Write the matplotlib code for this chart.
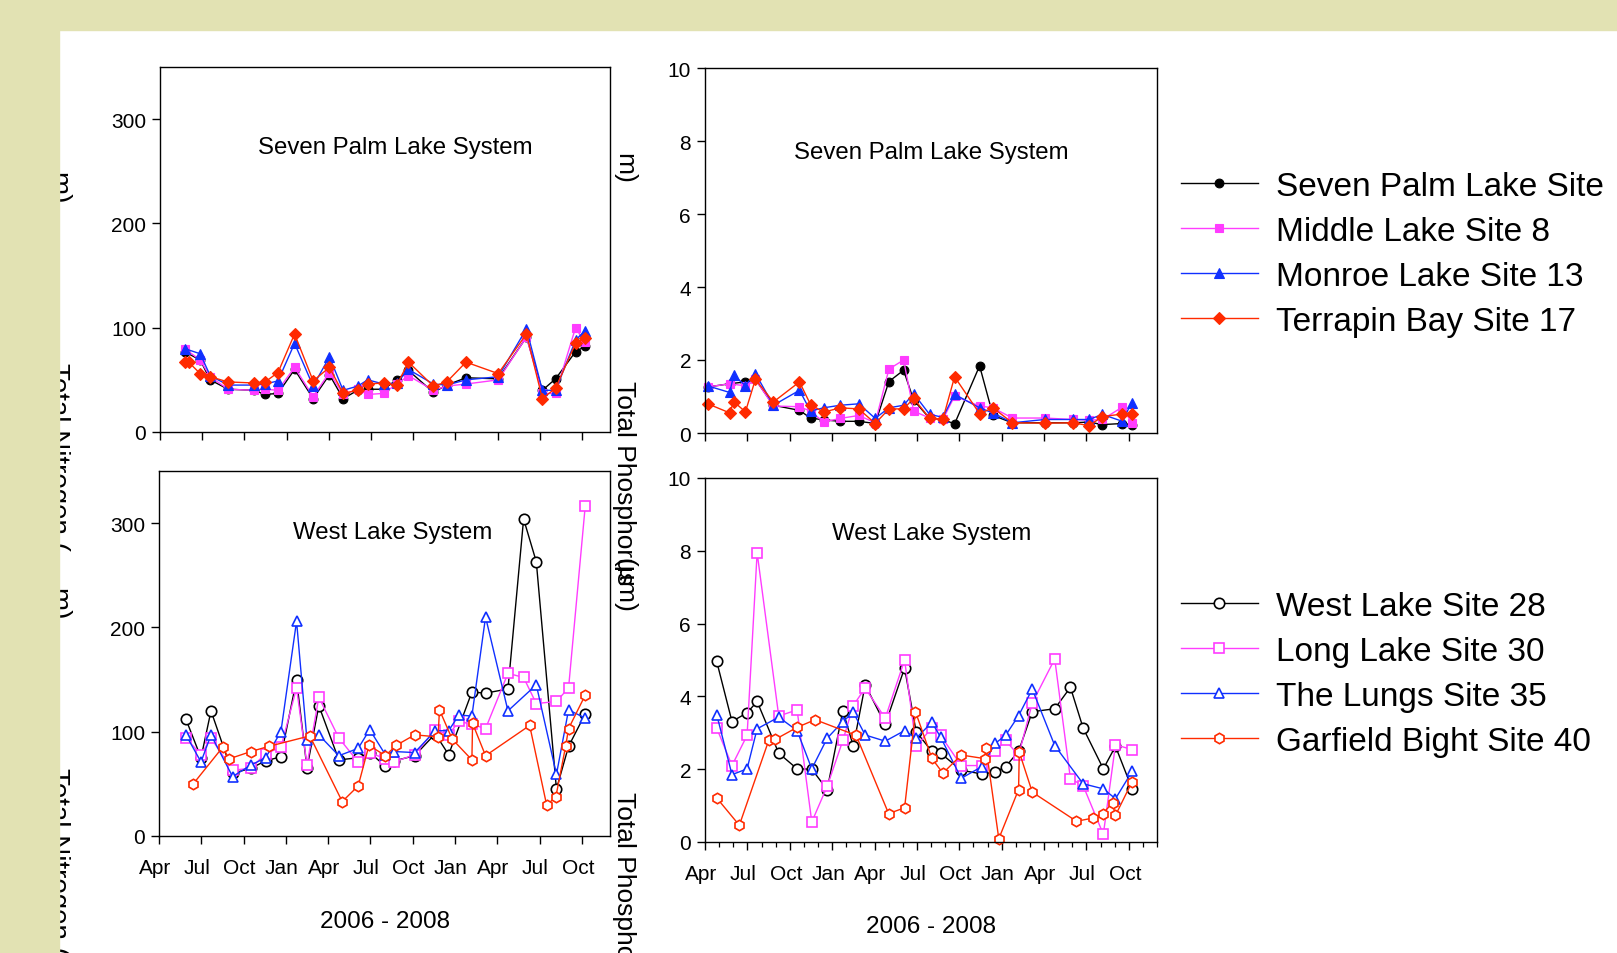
import matplotlib
matplotlib.use("Agg")
import matplotlib.pyplot as plt
import matplotlib.transforms as mtransforms
from matplotlib import font_manager
from matplotlib.patches import Rectangle

# ----------------------------
# Data  (x = months counted from 1 Apr 2006)
# ----------------------------
quarter_ticks = [0, 3, 6, 9, 12, 15, 18, 21, 24, 27, 30]
quarter_labels = ["Apr", "Jul", "Oct", "Jan", "Apr", "Jul", "Oct", "Jan", "Apr", "Jul", "Oct"]

top_labels = ["Seven Palm Lake Site", "Middle Lake Site 8", "Monroe Lake Site 13", "Terrapin Bay Site 17"]
bottom_labels = ["West Lake Site 28", "Long Lake Site 30", "The Lungs Site 35", "Garfield Bight Site 40"]

# Seven Palm Lake System
sp_months = [0.2, 1.75, 2.03, 2.86, 3.57, 4.84, 6.69, 7.47, 8.39, 9.57, 10.89, 12.05, 13.02, 14.06,
             14.77, 15.9, 16.84, 17.67, 19.44, 20.39, 21.76, 24.05, 26.06, 27.19, 28.13, 29.55, 30.2]

sp_tn_seven_palm = [None, 77, None, 69, 50, 41, 40, 36, 37, 60, 32, 55, 32, 40, 41, 41, 50, 59, 38, 45, 52, 51, 91, 40, 51, 77, 82]
sp_tn_middle = [None, 80, None, 69, 53, 41, 40, 41, 40, 62, 34, 57, 36, 41, 36, 37, 46, 54, 40, 44, 46, 50, 91, 37, 37, 100, 86]
sp_tn_monroe = [None, 80, None, 75, 54, 45, 45, 46, 49, 85, 44, 72, 40, 44, 50, 46, 47, 60, 46, 45, 50, 53, 99, 40, 40, 88, 97]
sp_tn_terrapin = [None, 67, 67, 56, 53, 48, 47, 48, 57, 94, 49, 62, 37, 40, 46, 47, 45, 67, 44, 48, 67, 56, 94, 32, 42, 85, 90]

sp_tp_seven_palm = [1.26, 1.35, None, 1.40, 1.47, 0.76, 0.62, 0.41, 0.36, 0.32, 0.32, 0.26, 1.41, 1.72,
                    0.90, 0.40, 0.37, 0.25, 1.84, 0.48, 0.28, 0.28, 0.28, 0.30, 0.23, 0.26, 0.23]
sp_tp_middle = [1.26, 1.35, None, 1.29, 1.47, 0.74, 0.72, 0.60, 0.30, 0.40, 0.48, 0.28, 1.75, 2.00,
                0.60, 0.41, 0.37, 1.01, 0.74, 0.69, 0.41, 0.41, 0.37, 0.35, 0.37, 0.71, 0.28]
sp_tp_monroe = [1.29, 1.11, 1.58, 1.30, 1.63, 0.76, 1.17, 0.60, 0.69, 0.76, 0.80, 0.40, 0.69, 0.76,
                1.08, 0.51, 0.43, 1.06, 0.69, 0.55, 0.28, 0.37, 0.37, 0.37, 0.51, 0.32, 0.83]
sp_tp_terrapin = [0.80, 0.55, 0.86, 0.58, 1.47, 0.85, 1.40, 0.78, 0.57, 0.69, 0.66, 0.26, 0.66, 0.66,
                  0.95, 0.40, 0.38, 1.54, 0.53, 0.69, 0.28, 0.27, 0.28, 0.20, 0.45, 0.52, 0.52]

# West Lake System
wl_months = [0.83, 1.91, 2.98, 3.69, 5.22, 6.52, 7.56, 8.65, 9.76, 10.5, 11.34, 12.76, 14.13, 14.95,
             16.06, 16.68, 18.14, 19.6, 20.55, 21.28, 22.2, 23.17, 24.76, 25.87, 26.77, 28.2, 29.06, 30.24]
wl_red_months = [0.83, 2.43, 4.51, 4.98, 6.52, 7.8, 10.7, 13.0, 14.13, 14.9, 16.06, 16.84, 18.14,
                 19.8, 19.9, 20.8, 22.2, 22.25, 23.17, 26.3, 27.5, 28.15, 28.85, 29.06, 30.24]

wl_tn_west = [None, 112, 75, 120, 60, 65, 72, 76, 150, 65, 125, 73, 75, 80, 67, 72, 77, 98, 78, None,
              138, 137, 141, 304, 263, 45, 86, 117]
wl_tn_long = [None, 94, 78, 94, 63, 65, 79, 85, 142, 68, 133, 94, 71, 80, 74, 71, 78, 102, 97, 110,
              107, 103, 156, 152, 127, 129, 142, 316]
wl_tn_lungs = [None, 97, 71, 97, 57, 68, 75, 100, 206, 92, 97, 77, 84, 102, 78, 81, 80, 101, 101, 116,
               115, 210, 120, None, 145, 59, 121, 113]
wl_tn_garfield = [None, 50, 85, 74, 81, 86, 96, 33, 48, 87, 77, 87, 97, 95, 121, 93, 73, 108, 77, 106,
                  30, 37, 86, 103, 135]

wl_tp_west = [4.96, 3.31, 3.55, 3.86, 2.44, 2.01, 2.00, 1.44, 3.61, 2.63, 4.32, 3.23, 4.78, 3.03,
              2.49, 2.44, 1.97, 1.87, 1.92, 2.07, 2.49, 3.58, 3.66, 4.25, 3.13, 2.01, 2.63, 1.46]
wl_tp_long = [3.13, 2.10, 2.93, 7.95, 3.46, 3.63, 0.55, 1.53, 2.79, 3.75, 4.23, 3.40, 5.00, 2.63,
              3.14, 2.93, 2.10, 2.10, 2.50, 2.79, 2.38, 3.82, 5.03, 1.74, 1.55, 0.21, 2.67, 2.54]
wl_tp_lungs = [3.50, 1.85, 2.01, 3.11, 3.43, 3.06, 2.01, 2.85, 3.31, 3.56, 2.94, 2.77, 3.06, 2.85,
               3.29, 2.88, 1.75, 2.07, 2.71, 2.93, 3.47, 4.20, 2.65, None, 1.60, 1.46, 1.19, 1.94]
wl_tp_garfield = [1.21, 0.46, 2.79, 2.82, 3.15, 3.36, 2.93, 0.78, 0.94, 3.58, 2.30, 1.89, 2.39,
                  2.29, 2.58, 0.09, 1.44, 2.47, 1.37, 0.57, 0.66, 0.78, 1.07, 0.73, 1.66]

# ----------------------------
# Styling
# ----------------------------
W, H = 1617, 954
BLACK, MAGENTA, BLUE, RED = "#000000", "#FF3CFF", "#1030FF", "#FF2A00"
BAND = "#E2E2B3"


def has_font(name):
    try:
        font_manager.findfont(font_manager.FontProperties(family=name), fallback_to_default=False)
        return True
    except ValueError:
        return False


narrow = has_font("Liberation Sans Narrow")
plt.rcParams["font.family"] = ["Liberation Sans", "DejaVu Sans"]
NARROW_FAMILY = ["Liberation Sans Narrow", "Liberation Sans"] if narrow else ["Liberation Sans", "DejaVu Sans"]
k = 1.2 if narrow else 1.0
TICK_SIZE = 15 * k
TITLE_SIZE = 17.3 * k
XLABEL_SIZE = 17.5 * k

fig = plt.figure(figsize=(W / 100, H / 100), dpi=100)
fig.patch.set_facecolor("white")


def make_axes(left, right, top, bottom):
    return fig.add_axes([left / W, 1 - bottom / H, (right - left) / W, (bottom - top) / H])


def plot_series(ax, months, values, color, marker, filled, ms, label):
    xs = [m for m, v in zip(months, values) if v is not None]
    ys = [v for v in values if v is not None]
    ax.plot(xs, ys, color=color, lw=1.0, marker=marker, ms=ms,
            mfc=color if filled else "white", mec=color, mew=0.8 if filled else 1.2,
            label=label, clip_on=False)


def style_axes(ax, ymax, yticks, show_xlabels, minor=False):
    ax.set_xlim(0, 32)
    ax.set_ylim(0, ymax)
    ax.set_yticks(yticks)
    ax.set_xticks(quarter_ticks)
    if minor:
        ax.set_xticks(range(0, 33), minor=True)
    ax.tick_params(direction="out", length=6, width=1.0, labelsize=TICK_SIZE)
    ax.tick_params(axis="y", pad=4)
    ax.tick_params(axis="x", pad=10)
    ax.tick_params(which="minor", direction="out", length=3.5, width=0.9)
    for s in ax.spines.values():
        s.set_linewidth(1.0)
    for lab in ax.get_yticklabels():
        lab.set_family(NARROW_FAMILY)
    if show_xlabels:
        ax.set_xticklabels(quarter_labels, family=NARROW_FAMILY)
        shift = mtransforms.ScaledTranslation(-4 / 100, 0, fig.dpi_scale_trans)
        for lab in ax.get_xticklabels():
            lab.set_transform(lab.get_transform() + shift)
        ax.set_xlabel("2006 - 2008", fontsize=XLABEL_SIZE, family=NARROW_FAMILY)
        ax.xaxis.label.set_verticalalignment("center")
    else:
        ax.tick_params(labelbottom=False)


ax_tl = make_axes(160, 610, 68, 433)
ax_tr = make_axes(705, 1157, 69, 434)
ax_bl = make_axes(159, 610, 472, 837)
ax_br = make_axes(705, 1157, 479, 843)

# Seven Palm Lake System (filled markers)
top_styles = [(BLACK, "o", 6.3), (MAGENTA, "s", 5.8), (BLUE, "^", 6.8), (RED, "D", 6.0)]
for ax, series in [(ax_tl, [sp_tn_seven_palm, sp_tn_middle, sp_tn_monroe, sp_tn_terrapin]),
                   (ax_tr, [sp_tp_seven_palm, sp_tp_middle, sp_tp_monroe, sp_tp_terrapin])]:
    for vals, (c, m, ms), lab in zip(series, top_styles, top_labels):
        plot_series(ax, sp_months, vals, c, m, True, ms, lab)

# West Lake System (open markers)
bottom_styles = [(BLACK, "o", 7.5), (MAGENTA, "s", 6.5), (BLUE, "^", 7.5), (RED, "h", 7.5)]
for ax, series in [(ax_bl, [wl_tn_west, wl_tn_long, wl_tn_lungs, wl_tn_garfield]),
                   (ax_br, [wl_tp_west, wl_tp_long, wl_tp_lungs, wl_tp_garfield])]:
    for i, (vals, (c, m, ms), lab) in enumerate(zip(series, bottom_styles, bottom_labels)):
        months = wl_red_months if i == 3 else wl_months
        plot_series(ax, months, vals, c, m, False, ms, lab)

style_axes(ax_tl, 350, [0, 100, 200, 300], False)
style_axes(ax_tr, 10, [0, 2, 4, 6, 8, 10], False)
style_axes(ax_bl, 350, [0, 100, 200, 300], True)
style_axes(ax_br, 10, [0, 2, 4, 6, 8, 10], True, minor=True)
ax_bl.xaxis.set_label_coords(0.5, -0.232)
ax_br.xaxis.set_label_coords(0.5, -0.230)

ax_tl.text(0.524, 0.780, "Seven Palm Lake System", transform=ax_tl.transAxes, ha="center", va="center",
           fontsize=TITLE_SIZE, family=NARROW_FAMILY)
ax_tr.text(0.500, 0.769, "Seven Palm Lake System", transform=ax_tr.transAxes, ha="center", va="center",
           fontsize=TITLE_SIZE, family=NARROW_FAMILY)
ax_bl.text(0.519, 0.833, "West Lake System", transform=ax_bl.transAxes, ha="center", va="center",
           fontsize=TITLE_SIZE, family=NARROW_FAMILY)
ax_br.text(0.502, 0.849, "West Lake System", transform=ax_br.transAxes, ha="center", va="center",
           fontsize=TITLE_SIZE, family=NARROW_FAMILY)

# ----------------------------
# Legends
# ----------------------------
leg_kw = dict(loc="upper left", frameon=False, fontsize=24, handlelength=2.3, handletextpad=0.55,
              labelspacing=0.42, borderpad=0, borderaxespad=0)
fig.legend(handles=ax_tr.get_lines(), labels=top_labels, bbox_to_anchor=(1181 / W, 1 - 172 / H), **leg_kw)
fig.legend(handles=ax_br.get_lines(), labels=bottom_labels, bbox_to_anchor=(1181 / W, 1 - 592 / H), **leg_kw)


# ----------------------------
# Axis titles at the sides (partly hidden on the slide)
# ----------------------------
def side_text(x_px, top_px, text, size=20):
    fig.text(x_px / W, 1 - top_px / H, text, rotation=270, ha="center", va="top", fontsize=size)


side_text(57, 172, "m)")
side_text(57, 363, "Total Nitrogen (")
side_text(57, 588, "m)")
side_text(57, 768, "Total Nitrogen (")

side_text(624, 153, "m)", 19)
side_text(624, 381, "Total Phosphorus", 19)
side_text(624, 558, "(µm)", 19)
side_text(624, 792, "Total Phosphorus", 19)

# slide background bands
fig.add_artist(Rectangle((0, 1 - 31 / H), 1, 31 / H, transform=fig.transFigure, color=BAND, zorder=10))
fig.add_artist(Rectangle((0, 0), 59 / W, 1, transform=fig.transFigure, color=BAND, zorder=10))

fig.savefig("out.png", dpi=100)
